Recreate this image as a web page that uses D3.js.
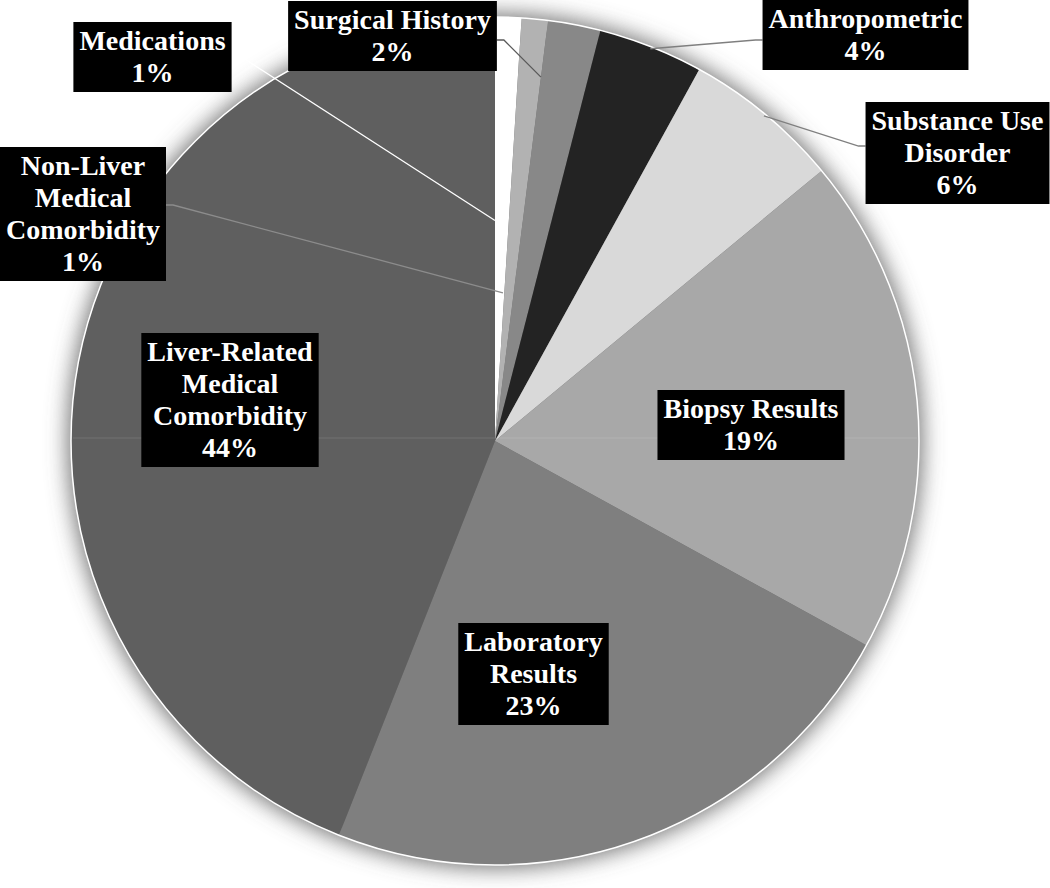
<!DOCTYPE html>
<html>
<head>
<meta charset="utf-8">
<script src="https://cdn.jsdelivr.net/npm/d3@7"></script>
<style>
  body { margin: 0; background: #fff; }
  svg { display: block; }
</style>
</head>
<body>
<div id="chart"></div>
<script>
// Chart data (clockwise from 12 o'clock)
var categories = ["Non-Liver Medical Comorbidity", "Medications", "Surgical History", "Anthropometric",
  "Substance Use Disorder", "Biopsy Results", "Laboratory Results", "Liver-Related Medical Comorbidity"];
var values = [1, 1, 2, 4, 6, 19, 23, 44];
var labelLines = [["Non-Liver", "Medical", "Comorbidity"], ["Medications"], ["Surgical History"], ["Anthropometric"],
  ["Substance Use", "Disorder"], ["Biopsy Results"], ["Laboratory", "Results"], ["Liver-Related", "Medical", "Comorbidity"]];

// Styles
var sliceColors = ["#ffffff", "#b2b2b2", "#888888", "#232323", "#d9d9d9", "#a8a8a8", "#7f7f7f", "#5f5f5f"];

// Label boxes: centre x, top y, leader anchor [position in slice, radius fraction], attach y offset, leader colour
var labelLayout = [
  {cx: 83, top: 147, side: 1, anchor: [0.85, 0.35], attachY: 58, line: "#8c8c8c"},
  {cx: 152.5, top: 22, side: 1, anchor: [-1.0, 0.52], attachY: 33, line: "#ffffff"},
  {cx: 392.5, top: 1, side: 1, anchor: [0.0, 0.865], attachY: 39, line: "#595959"},
  {cx: 865.5, top: 0, side: -1, anchor: [0.5, 0.995], attachY: 40, line: "#7f7f7f"},
  {cx: 957.5, top: 102, side: -1, anchor: [0.5, 0.995], attachY: 44, line: "#7f7f7f"},
  {cx: 751, top: 390, side: 0},
  {cx: 533.5, top: 623, side: 0},
  {cx: 230, top: 333, side: 0}
];

// Chart setup
var svgWidth = 1050;
var svgHeight = 888;
var cx = 495, cy = 441, radius = 424;
var fontSize = 28, lineH = 32, pad = 6;

var svg = d3.select("#chart").append("svg")
  .attr("width", svgWidth)
  .attr("height", svgHeight);

// soft glow round the pie (region in the pie group's own coordinates)
var defs = svg.append("defs");
var filter = defs.append("filter")
  .attr("id", "glow")
  .attr("filterUnits", "userSpaceOnUse")
  .attr("x", -radius - 60).attr("y", -radius - 60)
  .attr("width", 2 * radius + 120).attr("height", 2 * radius + 120);
filter.append("feGaussianBlur")
  .attr("in", "SourceGraphic")
  .attr("stdDeviation", 11);

var pieGroup = svg.append("g")
  .attr("transform", `translate(${cx}, ${cy})`);

pieGroup.append("circle")
  .attr("r", radius + 3)
  .attr("fill", "#606060")
  .attr("fill-opacity", 0.9)
  .attr("filter", "url(#glow)");

var pie = d3.pie().sort(null).value(d => d);
var arcs = pie(values);
var arc = d3.arc().innerRadius(0).outerRadius(radius);

pieGroup.selectAll("path.slice")
  .data(arcs)
  .enter()
  .append("path")
  .attr("class", "slice")
  .attr("d", arc)
  .attr("fill", (d, i) => sliceColors[i]);

// faint horizontal artefact across the pie
pieGroup.append("line")
  .attr("x1", -radius + 2).attr("x2", radius - 2)
  .attr("y1", -3).attr("y2", -3)
  .attr("stroke", "#ffffff")
  .attr("stroke-opacity", 0.08)
  .attr("stroke-width", 1.5);

pieGroup.append("circle")
  .attr("r", radius)
  .attr("fill", "none")
  .attr("stroke", "#ffffff")
  .attr("stroke-width", 1.5);

function polar(a, r) {
  return [cx + r * Math.sin(a), cy - r * Math.cos(a)];
}

// Labels
var labelGroup = svg.append("g");

arcs.forEach(function(d, i) {
  var lay = labelLayout[i];
  var lines = labelLines[i].concat([values[i] + "%"]);
  var g = labelGroup.append("g");
  var box = g.append("rect").attr("fill", "#000");
  var widest = 0;
  lines.forEach(function(t, j) {
    var txt = g.append("text")
      .attr("x", lay.cx)
      .attr("y", lay.top + 28 + j * lineH)
      .attr("text-anchor", "middle")
      .attr("font-family", "'Liberation Serif', 'Times New Roman', serif")
      .attr("font-weight", "bold")
      .attr("font-size", fontSize + "px")
      .attr("fill", "#fff")
      .text(t);
    widest = Math.max(widest, txt.node().getComputedTextLength());
  });
  var w = widest + 2 * pad;
  var h = lines.length * lineH + 6;
  box.attr("x", lay.cx - w / 2).attr("y", lay.top).attr("width", w).attr("height", h);

  if (lay.side !== 0) {
    var ax = lay.side > 0 ? lay.cx + w / 2 : lay.cx - w / 2;
    var ay = lay.top + lay.attachY;
    var ang = d.startAngle + lay.anchor[0] * (d.endAngle - d.startAngle);
    var end = polar(ang, radius * lay.anchor[1]);
    labelGroup.insert("path", ":first-child")
      .attr("d", d3.line()([[ax, ay], [ax + 7 * lay.side, ay], end]))
      .attr("fill", "none")
      .attr("stroke", lay.line)
      .attr("stroke-width", 1.3);
  }
});
</script>
</body>
</html>
